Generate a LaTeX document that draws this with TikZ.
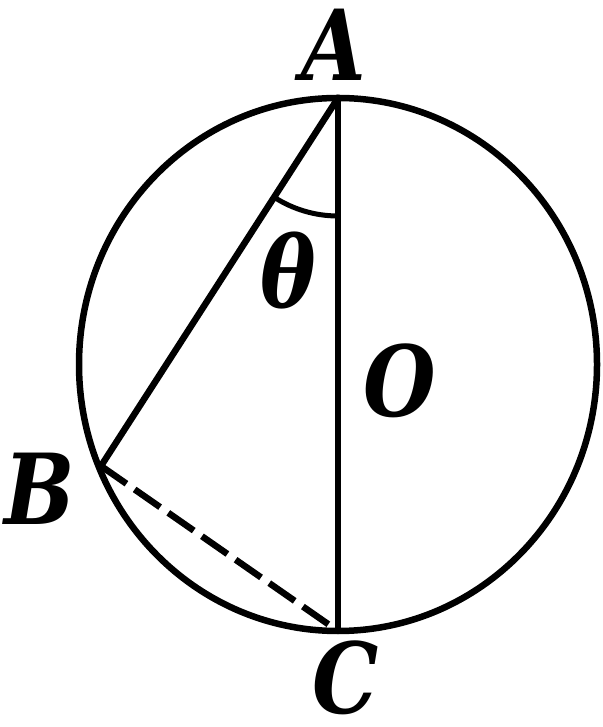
\documentclass[tikz,border=0pt]{standalone}
\usepackage{fontspec}
\newfontfamily\lblfont{DejaVu Serif}
\usetikzlibrary{calc}
\begin{document}
\begin{tikzpicture}[x=1pt,y=1pt,
  geo/.style={line width=6.5pt, line cap=round, line join=round},
  lbl/.style={inner sep=0pt, xscale=0.85, font=\lblfont\fontsize{98}{98}\selectfont\bfseries\itshape}]
\useasboundingbox (0,0) rectangle (602,727);
\coordinate (O) at (338,362.5);
\coordinate (A) at (338,629);
\coordinate (C) at (338,96);
\coordinate (B) at (101,261);
\draw[geo] (O) ellipse [x radius=259, y radius=266.5];
\draw[geo] (A) -- (C);
\draw[geo] (A) -- (B);
\draw[line width=6.5pt, dash pattern=on 31pt off 10pt] (B) -- (C);
\draw[line width=5pt] (A) ++(237.2:118) arc[start angle=237.2, end angle=270, radius=118];
\node[lbl] (la) at (334,682) {A};
\node[lbl] (lb) at (40,238) {B};
\node[lbl] (lc) at (346,49) {C};
\node[lbl] (lo) at (400,346) {O};
\node[lbl, xscale=1.0] (lt) at (288,456) {θ};
\end{tikzpicture}
\end{document}
